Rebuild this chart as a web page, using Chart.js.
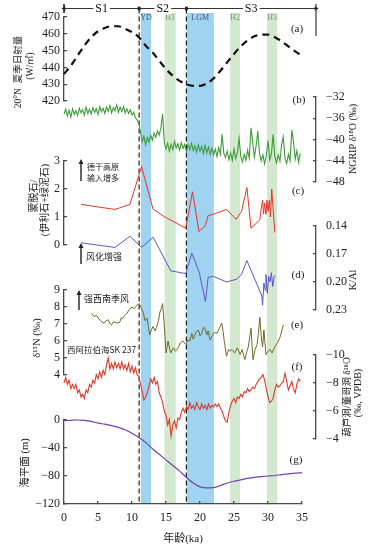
<!DOCTYPE html>
<html><head><meta charset="utf-8">
<script src="https://cdn.jsdelivr.net/npm/chart.js@4.4.0/dist/chart.umd.min.js"></script>
<style>
html,body{margin:0;padding:0;background:#fff;}
#wrap{position:relative;width:384px;height:550px;overflow:hidden;background:#fff;}
#wrap canvas{position:absolute;left:0;top:0;}
</style></head><body><div id="wrap"></div>
<script>
// ================= DATA =================
const xTicks = [0, 5, 10, 15, 20, 25, 30, 35];

// (a) 20°N summer insolation (W/m2)
const insolAge = [0,1,2,3,4,5,6,7,8,9,10,11,12,13,14,15,16,17,18,19,20,21,22,23,24,25,26,27,28,29,30,31,32,33,34,34.8];
const insolVal = [436,441,447,453,458,461.5,463.5,464.5,464.5,463,461,458,453,449,444,439,435,432,430,429,429,430.5,433.5,438,443,448,452.5,456,458.5,459.5,459.5,458,455.5,452.5,449.5,447.5];
const insolTicks = [420, 430, 440, 450, 460, 470];

// (b) NGRIP d18O, 0.25 ka spacing from 0 ka
const ngripStart = 0, ngripStep = 0.25;
const ngripVal = [
-35.2,-34.3,-35.6,-34.5,-35.8,-34.2,-35.3,-34.6,-35.5,-34.1,-35.0,-34.4,-35.4,-33.9,-35.1,-34.3,
-35.2,-34.0,-34.9,-34.2,-35.3,-33.8,-34.8,-34.1,-35.1,-33.9,-34.7,-33.6,-35.0,-34.0,-34.6,-33.5,
-34.9,-33.9,-34.7,-33.8,-35.0,-34.2,-35.1,-34.4,-35.4,-34.9,-35.9,-36.3,-37.0,-38.6,-40.4,-39.4,
-41.0,-39.6,-40.5,-39.2,-40.1,-38.8,-39.6,-38.4,-39.2,-37.8,-35.2,-40.6,-41.8,-40.7,-42.2,-40.9,
-41.9,-40.4,-41.6,-40.8,-42.0,-40.6,-41.7,-40.9,-42.3,-41.0,-41.9,-40.7,-42.1,-41.2,-42.4,-41.0,
-42.2,-41.3,-42.6,-41.1,-42.5,-41.4,-42.8,-41.6,-42.9,-41.8,-43.2,-41.5,-42.8,-39.0,-42.6,-43.4,
-42.2,-43.8,-42.5,-43.9,-41.8,-43.6,-42.4,-39.8,-43.2,-44.2,-42.8,-43.9,-42.0,-43.5,-37.8,-40.5,
-43.3,-41.2,-38.4,-42.6,-44.0,-42.9,-44.6,-43.1,-40.2,-43.8,-42.7,-39.0,-43.2,-44.4,-42.9,-44.1,
-41.0,-39.5,-43.6,-44.5,-42.8,-44.0,-38.2,-40.4,-43.7,-42.1,-44.3,-42.6];
const ngripTicks = [-48, -44, -40, -36, -32];

// (c) smectite / (illite + chlorite)
const clayAge = [2.5,7.5,9.7,11.4,13.1,14.85,17.9,18.9,19.85,20.8,21.2,22.0,23.9,25.3,26.1,26.9,27.5,28.8,29.0,29.2,29.35,29.5,29.7,29.85,30.0,30.2,30.35,30.55,30.75,31.0];
const clayVal = [1.45,1.27,1.45,2.8,1.28,1.0,0.6,1.9,0.48,0.7,1.05,1.1,1.27,0.92,1.19,2.05,0.6,0.9,1.3,1.6,1.1,1.5,1.1,1.6,1.2,1.6,1.0,2.0,1.3,0.45];
const clayTicks = [0, 1, 2, 3];

// (d) K/Al
const kalAge = [2.5,7.5,9.7,11.4,13.1,15.7,17.9,18.8,19.9,20.8,21.2,22.0,23.9,25.4,26.1,26.9,29.1,29.2,29.4,29.6,29.7,29.9,30.1,30.3,30.5,30.7,30.9,31.1];
const kalVal = [0.158,0.163,0.151,0.163,0.152,0.188,0.191,0.169,0.19,0.221,0.195,0.194,0.2,0.197,0.192,0.177,0.215,0.225,0.201,0.209,0.192,0.212,0.194,0.2,0.19,0.205,0.194,0.193];
const kalTicks = [0.14, 0.17, 0.20, 0.23];

// (e) d15N, SK 237
const d15nAge = [4.05,4.4,4.8,5.1,5.3,5.6,5.9,6.2,6.5,6.8,7.0,7.3,7.5,7.8,8.2,8.4,8.6,8.9,9.2,9.6,10.0,10.3,10.7,11.1,11.4,11.7,11.9,12.2,12.4,12.6,12.9,13.1,13.4,13.6,13.9,14.1,14.3,14.5,14.7,15.0,15.3,15.5,15.7,16.1,16.4,16.6,16.9,17.1,17.5,17.9,18.2,18.5,18.8,19.0,19.4,19.75,20.0,20.25,20.5,20.7,21.0,21.2,21.5,21.8,22.1,22.5,22.8,23.2,23.4,23.6,23.9,24.2,24.4,24.7,25.1,25.5,25.9,26.2,26.6,26.9,27.1,27.3,27.5,27.65,27.8,28.1,28.4,28.6,28.8,29.0,29.2,29.4,29.7,30.0,30.3,30.6,31.0,31.4,31.8,32.25];
const d15nVal = [7.63,7.45,7.5,7.3,7.25,7.1,7.05,7.2,7.25,7.0,6.95,7.15,7.1,7.05,7.1,7.35,7.3,7.5,7.6,7.85,8.0,7.9,8.1,8.2,7.9,7.6,7.2,7.35,6.85,6.35,6.7,6.85,6.6,6.8,7.2,7.7,7.9,8.2,7.2,5.3,6.0,5.6,5.3,5.6,5.4,5.5,5.7,5.9,6.0,5.8,6.05,6.0,6.45,6.1,6.5,6.65,6.3,6.45,6.8,6.75,6.35,6.6,6.05,6.3,6.5,6.45,6.7,7.05,6.55,5.9,5.1,5.5,5.4,5.5,5.3,5.6,5.2,5.5,4.9,5.4,5.65,6.2,6.75,5.8,4.9,5.5,5.8,6.5,7.4,6.3,5.65,6.65,5.2,5.4,5.5,5.3,5.65,5.9,6.25,6.95];
const d15nTicks = [4, 5, 6, 7, 8, 9];

// (f) Hulu / Dongge speleothem d18O, 0.25 ka spacing from 0 ka
const huluStart = 0, huluStep = 0.25;
const huluVal = [
-8.0,-8.4,-7.9,-8.2,-7.6,-7.9,-7.6,-7.9,-7.3,-7.5,-7.0,-7.2,-6.9,-7.5,-7.3,-7.9,
-7.7,-8.2,-8.0,-8.6,-8.3,-8.8,-8.4,-8.9,-8.6,-9.3,-9.8,-9.0,-9.4,-9.0,-9.5,-9.1,
-9.4,-9.0,-9.5,-9.0,-9.3,-8.9,-9.4,-8.8,-9.2,-8.7,-9.1,-8.6,-8.5,-7.9,-7.4,-6.8,
-7.0,-7.3,-7.8,-8.3,-8.0,-8.4,-7.9,-8.1,-7.3,-7.0,-6.6,-6.0,-5.7,-5.0,-5.4,-4.2,
-5.0,-5.3,-4.8,-5.5,-5.4,-5.9,-6.2,-5.9,-6.3,-6.1,-6.6,-6.2,-6.4,-6.1,-6.6,-6.3,
-6.1,-6.5,-6.2,-6.4,-6.1,-6.5,-6.2,-6.4,-6.3,-6.5,-6.3,-6.5,-6.2,-6.0,-5.6,-5.3,
-5.2,-5.9,-6.4,-6.7,-6.9,-6.6,-7.0,-6.9,-7.2,-7.0,-7.4,-7.3,-7.6,-7.4,-7.5,-7.7,
-7.6,-7.9,-8.1,-8.3,-8.4,-8.6,-8.2,-7.6,-7.0,-6.6,-6.7,-6.9,-7.5,-7.9,-7.7,-7.8,
-8.0,-8.1,-8.7,-8.1,-7.5,-7.8,-8.1,-7.6,-7.3,-7.9,-8.3,-8.1];
const huluTicks = [-10, -8, -6, -4];

// (g) sea level (m)
const seaAge = [0,1,2,3,4,5,6,7,8,9,10,11,12,13,14,15,16,17,18,19,20,21,22,23,24,25,26,27,28,29,30,31,32,33,34,35];
const seaVal = [-1,-0.5,0,-0.5,-2,-4.5,-6,-8,-10.5,-14,-19,-25,-32,-41,-49,-57,-65,-73,-82,-90,-95.5,-97,-96.5,-93.5,-90,-87.5,-85.5,-83.5,-82,-81,-80,-79.3,-78,-77,-76,-75.2];
const seaTicks = [-120, -80, -40, 0];

// climate events and stages
const bandNames = ['YD', 'H1', 'LGM', 'H2', 'H3'];
const bandStart = [11.3, 14.75, 18.0, 24.4, 29.8];
const bandEnd   = [12.8, 16.45, 22.05, 25.9, 31.4];
const bandCold  = [true, false, true, false, false];
const stageNames = ['S1', 'S2', 'S3'];
const stageStart = [0, 11.05, 18.0];
const boundaryAges = [11.05, 18.0];

// ================= LAYOUT / STYLE =================
const W = 384, H = 550, PL = 64, PR = 302, AR = 316, XMAX = 35;
const pxPerKa = (PR - PL) / XMAX;
const XMAX_WIDE = (AR - PL) / pxPerKa;
const AXC = '#4a4a4a';
const SERIF = '"Liberation Serif","Times New Roman",serif';
const MIX = '"Liberation Serif","Noto Sans CJK SC",serif';
const CJK = '"Noto Sans CJK SC","Liberation Serif",sans-serif';
const BAND_TOP = 13, BAND_BOT = 504, BR_Y = 8.5;

const wrap = document.getElementById('wrap');
function mk() { const c = document.createElement('canvas'); c.width = W; c.height = H; c.style.width = W + 'px'; c.style.height = H + 'px'; wrap.appendChild(c); return c.getContext('2d'); }
function zip(a, v) { return a.map((x, i) => ({x: x, y: v[i]})); }
function even(start, step, v) { return v.map((y, i) => ({x: start + i * step, y: y})); }
const minus = v => String(v).replace('-', '\u2212');

function baseOpts(padding, scales) {
  return {responsive: false, animation: false, devicePixelRatio: 1, events: [],
    layout: {autoPadding: false, padding: padding},
    plugins: {legend: {display: false}, tooltip: {enabled: false}, title: {display: false}},
    scales: scales};
}
function hiddenX(max) { return {type: 'linear', min: 0, max: max, display: false}; }
function yAxis(pos, min, max, ticks, fmt, reverse) {
  return {type: 'linear', position: pos, min: min, max: max, reverse: !!reverse,
    afterBuildTicks: s => { s.ticks = ticks.map(v => ({value: v})); },
    afterFit: s => { s.width = pos === 'left' ? PL : W - AR; },
    border: {display: true, color: AXC, width: 1.3},
    grid: {display: true, drawOnChartArea: false, drawTicks: true, tickLength: -3, color: AXC, lineWidth: 1.3},
    ticks: {color: '#222', font: {family: SERIF, size: 12}, padding: pos === 'left' ? 7 : 13, autoSkip: false,
      callback: v => fmt(v)}};
}
function ser(pts, color, width, extra) {
  return Object.assign({data: pts, borderColor: color, borderWidth: width, pointRadius: 0, fill: false,
    tension: 0, clip: false}, extra || {});
}
function leftPanel(top, bottom, y, ds, x) {
  return new Chart(mk(), {type: 'line', data: {datasets: ds},
    options: baseOpts({left: 0, right: W - PR, top: top, bottom: H - bottom - (x ? (H - 504) : 0)}, {x: x || hiddenX(XMAX), y: y})});
}
function rightPanel(top, bottom, y, ds) {
  return new Chart(mk(), {type: 'line', data: {datasets: ds},
    options: baseOpts({left: PL, right: 0, top: top, bottom: H - bottom}, {x: hiddenX(XMAX_WIDE), y: y})});
}

// ================= BACKGROUND: bands, boundaries, stage bracket, text =================
const texts = [
  {t: '(a)', x: 297, y: 29, f: '11px ' + SERIF},
  {t: '(b)', x: 299, y: 100, f: '11px ' + SERIF},
  {t: '(c)', x: 298, y: 191, f: '11px ' + SERIF},
  {t: '(d)', x: 298, y: 275, f: '11px ' + SERIF},
  {t: '(e)', x: 297, y: 325, f: '11px ' + SERIF},
  {t: '(f)', x: 297, y: 367, f: '11px ' + SERIF},
  {t: '(g)', x: 296, y: 460, f: '11px ' + SERIF},
  {t: '20°N  夏季日射量', x: 18, y: 72, rot: true, f: '9.5px ' + MIX},
  {t: '(W/㎡)', x: 30, y: 66, rot: true, f: '9.5px ' + MIX},
  {t: '蒙脱石/', x: 34, y: 196, rot: true, f: '10px ' + MIX},
  {t: '(伊利石+绿泥石)', x: 45, y: 200, rot: true, f: '10px ' + MIX},
  {t: 'δ¹⁵N (‰)', x: 37, y: 338, rot: true, f: '10.5px ' + MIX},
  {t: '海平面 (m)', x: 25, y: 463, rot: true, f: '10.5px ' + MIX},
  {t: 'NGRIP δ¹⁸O (‰)', x: 353, y: 139, rot: true, f: '10px ' + MIX},
  {t: 'K/Al', x: 353, y: 280, rot: true, f: '10.5px ' + MIX},
  {t: '葫芦洞/董哥洞 δ¹⁸O', x: 347, y: 397, rot: true, f: '9.5px ' + MIX},
  {t: '(‰, VPDB)', x: 358, y: 393, rot: true, f: '10px ' + MIX},
  {t: '德干高原', x: 87, y: 167, align: 'left', f: '8px ' + CJK},
  {t: '输入增多', x: 87, y: 178, align: 'left', f: '8px ' + CJK},
  {t: '风化增强', x: 86, y: 257, align: 'left', f: '9px ' + CJK},
  {t: '强西南季风', x: 84, y: 299, align: 'left', f: '9px ' + CJK},
  {t: '西阿拉伯海SK 237', x: 67, y: 350, align: 'left', f: '8.5px ' + CJK}
];
const arrows = [{x: 81, y1: 181, y2: 159}, {x: 81, y1: 264, y2: 243}, {x: 79, y1: 310, y2: 290}];

const annotPlugin = {
  id: 'annot',
  afterDatasetsDraw(chart) {
    const ctx = chart.ctx, xs = chart.scales.x;
    ctx.save();
    ctx.textBaseline = 'middle';
    // band labels
    bandNames.forEach((n, i) => {
      ctx.font = '8px ' + SERIF;
      ctx.fillStyle = bandCold[i] ? '#3d5a75' : '#7a957a';
      ctx.textAlign = 'center';
      ctx.fillText(n, xs.getPixelForValue((bandStart[i] + bandEnd[i]) / 2), 18);
    });
    // stage labels on the bracket
    const stageEnd = stageStart.slice(1).concat([XMAX_WIDE]);
    ctx.font = '12px ' + SERIF;
    stageNames.forEach((n, i) => {
      const cx = xs.getPixelForValue((stageStart[i] + stageEnd[i]) / 2);
      const w = ctx.measureText(n).width;
      ctx.fillStyle = '#fff';
      ctx.fillRect(cx - w / 2 - 2, BR_Y - 6, w + 4, 12);
      ctx.fillStyle = '#111';
      ctx.textAlign = 'center';
      ctx.fillText(n, cx, BR_Y + 0.5);
    });
    // free text
    texts.forEach(o => {
      ctx.save();
      ctx.font = o.f; ctx.fillStyle = '#1a1a1a';
      ctx.textAlign = o.align || 'center';
      ctx.translate(o.x, o.y);
      if (o.rot) ctx.rotate(-Math.PI / 2);
      ctx.fillText(o.t, 0, 0);
      ctx.restore();
    });
    // up arrows
    ctx.strokeStyle = '#222'; ctx.fillStyle = '#222'; ctx.lineWidth = 1.4;
    arrows.forEach(a => {
      ctx.beginPath(); ctx.moveTo(a.x, a.y1); ctx.lineTo(a.x, a.y2 + 3); ctx.stroke();
      ctx.beginPath(); ctx.moveTo(a.x, a.y2); ctx.lineTo(a.x - 2.5, a.y2 + 5); ctx.lineTo(a.x + 2.5, a.y2 + 5); ctx.closePath(); ctx.fill();
    });
    ctx.restore();
  }
};

const bgSets = [];
bandNames.forEach((n, i) => {
  bgSets.push({data: [{x: bandStart[i], y: BAND_TOP}, {x: bandEnd[i], y: BAND_TOP}],
    fill: {value: BAND_BOT}, backgroundColor: bandCold[i] ? '#9fd3ef' : '#d4e8cf',
    borderWidth: 0, borderColor: 'rgba(0,0,0,0)', pointRadius: 0, order: 2, clip: false});
});
boundaryAges.forEach(a => {
  bgSets.push({data: [{x: a, y: BR_Y}, {x: a, y: BAND_BOT}], borderColor: '#1e1e1e', borderWidth: 1.2,
    borderDash: [5, 3], pointRadius: 0, fill: false, order: 1, clip: false});
});
const stageEndArr = stageStart.slice(1).concat([XMAX_WIDE]);
stageNames.forEach((n, i) => {
  bgSets.push({data: [{x: stageStart[i], y: BR_Y}, {x: stageEndArr[i], y: BR_Y}], borderColor: '#333', borderWidth: 1,
    pointStyle: 'triangle', pointRadius: 2.6, pointRotation: [-90, 90], pointBackgroundColor: '#222',
    pointBorderWidth: 0, fill: false, order: 1, clip: false});
});
bgSets.push({data: [{x: 0, y: 4}, {x: 0, y: 13}], borderColor: '#333', borderWidth: 1, pointRadius: 0, order: 1, clip: false});
bgSets.push({data: [{x: XMAX_WIDE, y: 4}, {x: XMAX_WIDE, y: 36}], borderColor: '#777', borderWidth: 1, pointRadius: 0, order: 1, clip: false});

new Chart(mk(), {type: 'line', data: {datasets: bgSets}, plugins: [annotPlugin],
  options: baseOpts({left: 0, right: 0, top: 0, bottom: 0}, {
    x: {type: 'linear', min: -PL / pxPerKa, max: (W - PL) / pxPerKa, display: false},
    y: {type: 'linear', min: 0, max: H, reverse: true, display: false}})});

// ================= PANELS =================
// (a)
leftPanel(17, 101, yAxis('left', 420, 470, insolTicks, v => String(v)),
  [ser(zip(insolAge, insolVal), '#111', 2.2, {borderDash: [7, 5], cubicInterpolationMode: 'monotone'})]);
// (b)
rightPanel(97, 182, yAxis('right', -48, -32, ngripTicks, minus),
  [ser(even(ngripStart, ngripStep, ngripVal), '#3f9c38', 1.1)]);
// (c)
leftPanel(161, 245, yAxis('left', 0, 3, clayTicks, v => String(v)),
  [ser(zip(clayAge, clayVal), '#e2352b', 1)]);
// (d)
rightPanel(226, 310, yAxis('right', 0.14, 0.23, kalTicks, v => v.toFixed(2), true),
  [ser(zip(kalAge, kalVal), '#5b57c4', 1)]);
// (e)
leftPanel(290, 375, yAxis('left', 4, 9, d15nTicks, v => String(v)),
  [ser(zip(d15nAge, d15nVal), '#6f6a2a', 1)]);
// (f)
rightPanel(355, 439, yAxis('right', -10, -4, huluTicks, minus, true),
  [ser(even(huluStart, huluStep, huluVal), '#dc3a2c', 1.1)]);
// (g)
leftPanel(420, 504, yAxis('left', -120, 0, seaTicks, minus),
  [ser(zip(seaAge, seaVal), '#6b45ad', 1.2, {cubicInterpolationMode: 'monotone'})],
  {type: 'linear', min: 0, max: XMAX, position: 'bottom',
   afterBuildTicks: s => { s.ticks = xTicks.map(v => ({value: v})); },
   afterFit: s => { s.height = H - 504; },
   border: {display: true, color: AXC, width: 1.3},
   grid: {display: true, drawOnChartArea: false, drawTicks: true, tickLength: -3, color: AXC, lineWidth: 1.3},
   ticks: {color: '#222', font: {family: SERIF, size: 12}, padding: 10, maxRotation: 0, autoSkip: false, callback: v => String(v)},
   title: {display: true, text: '年龄(ka)', color: '#222', font: {family: MIX, size: 11}, padding: {top: 0, bottom: 4}}});
</script></body></html>
